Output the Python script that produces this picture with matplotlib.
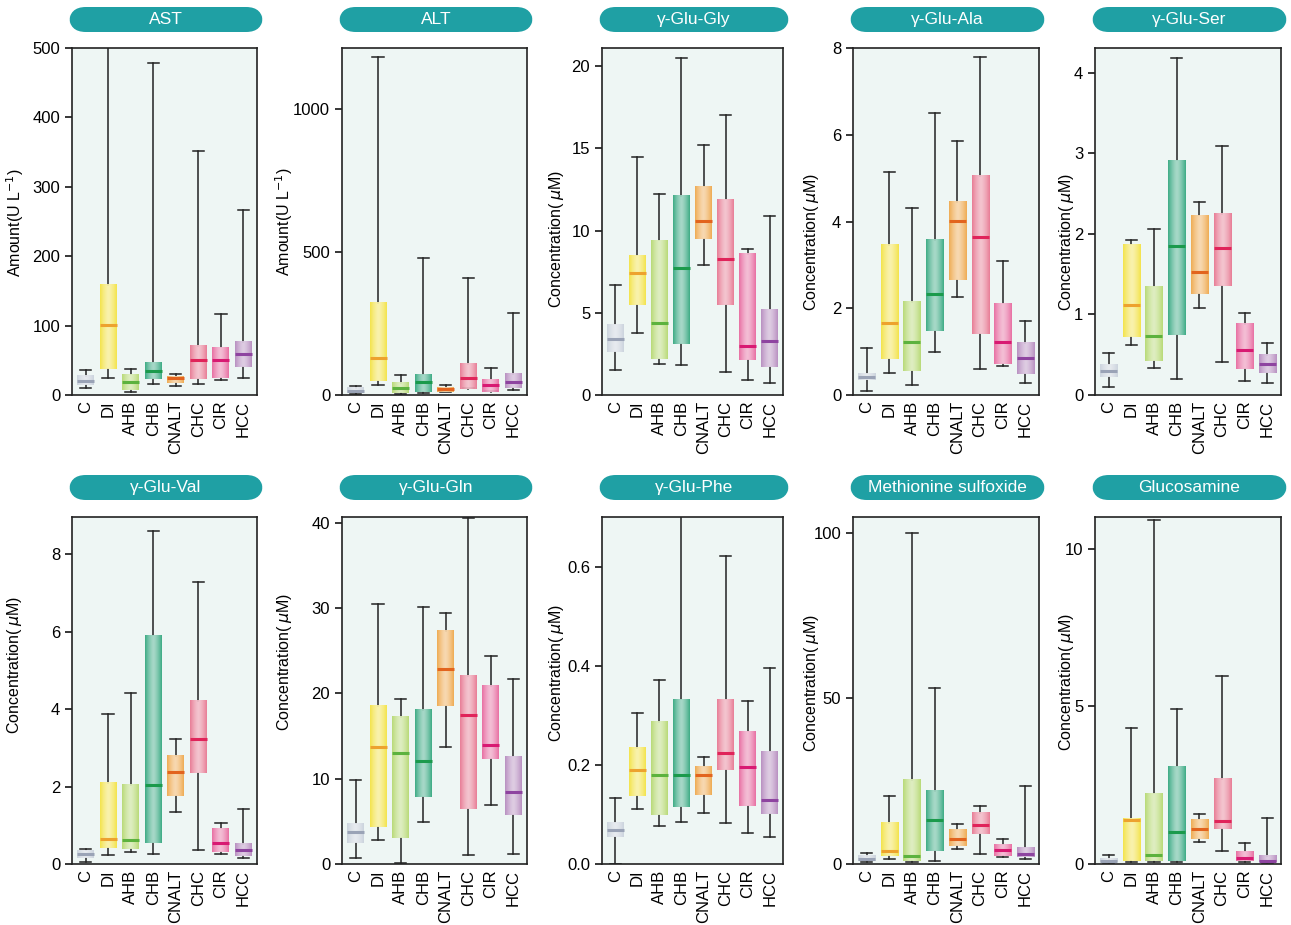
import numpy as np
import matplotlib.pyplot as plt
from matplotlib.colors import to_rgb
from matplotlib.patches import FancyBboxPatch

plt.rcParams['font.family'] = ['Liberation Sans', 'DejaVu Sans']

groups = ['C', 'DI', 'AHB', 'CHB', 'CNALT', 'CHC', 'CIR', 'HCC']
box_colors = ['#c9d1dc', '#f4e23c', '#b4d86c', '#2ea57c', '#f0a545', '#e8738e', '#e8649c', '#b487bd']
med_colors = ['#9aa3b6', '#eda22e', '#5cb23e', '#1b9a4c', '#e2641e', '#e0245a', '#d81a72', '#8e44a0']

# per group: whisker low, Q1, median, Q3, whisker high
ast = [[10, 14, 20, 27, 36], [25, 37, 101, 159, 520], [5, 7, 19, 30, 37], [16, 23, 35, 47, 478],
       [13, 18, 24, 28, 30], [16, 23, 50, 71, 352], [22, 25, 50, 69, 116], [24, 40, 59, 77, 267]]
alt = [[2, 6, 15, 26, 31], [35, 49, 131, 323, 1180], [5, 6, 23, 41, 69], [8, 12, 47, 73, 479],
       [12, 12, 20, 29, 35], [23, 20, 60, 108, 409], [15, 12, 35, 55, 93], [17, 23, 47, 72, 285]]
glu_gly = [[1.5, 2.6, 3.4, 4.3, 6.7], [3.8, 5.5, 7.4, 8.5, 14.5], [1.9, 2.2, 4.4, 9.4, 12.2],
           [1.8, 3.1, 7.7, 12.1, 20.5], [7.9, 9.5, 10.6, 12.7, 15.2], [1.4, 5.5, 8.3, 11.9, 17.0],
           [0.9, 2.1, 3.0, 8.6, 8.9], [0.7, 1.7, 3.3, 5.2, 10.9]]
glu_ala = [[0.1, 0.35, 0.42, 0.5, 1.08], [0.5, 0.82, 1.67, 3.45, 5.15], [0.22, 0.55, 1.22, 2.15, 4.3],
           [0.98, 1.48, 2.33, 3.58, 6.5], [2.25, 2.65, 4.02, 4.45, 5.85], [0.6, 1.4, 3.65, 5.05, 7.8],
           [0.67, 0.72, 1.22, 2.12, 3.1], [0.27, 0.48, 0.85, 1.2, 1.7]]
glu_ser = [[0.1, 0.22, 0.3, 0.38, 0.52], [0.62, 0.72, 1.12, 1.87, 1.93], [0.34, 0.42, 0.73, 1.35, 2.06],
           [0.2, 0.75, 1.85, 2.92, 4.18], [1.08, 1.25, 1.53, 2.23, 2.4], [0.41, 1.35, 1.82, 2.25, 3.09],
           [0.18, 0.32, 0.56, 0.88, 1.02], [0.15, 0.27, 0.38, 0.5, 0.65]]
glu_val = [[0.05, 0.15, 0.25, 0.35, 0.38], [0.22, 0.42, 0.65, 2.1, 3.88], [0.32, 0.38, 0.62, 2.05, 4.42],
           [0.25, 0.55, 2.05, 5.92, 8.6], [1.33, 1.75, 2.37, 2.8, 3.22], [0.37, 2.35, 3.22, 4.22, 7.28],
           [0.27, 0.32, 0.55, 0.92, 1.05], [0.15, 0.2, 0.35, 0.52, 1.43]]
glu_gln = [[0.7, 2.5, 3.7, 4.8, 9.8], [2.8, 4.3, 13.7, 18.5, 30.5], [0.1, 3.0, 13.0, 17.3, 19.4],
           [4.9, 7.8, 12.1, 18.1, 30.1], [13.7, 18.5, 22.9, 27.3, 29.4], [1.1, 6.5, 17.5, 22.1, 40.6],
           [6.9, 12.3, 13.9, 20.9, 24.4], [1.2, 5.8, 8.4, 12.7, 21.7]]
glu_phe = [[0.0, 0.055, 0.068, 0.085, 0.133], [0.111, 0.138, 0.19, 0.235, 0.305],
           [0.077, 0.098, 0.18, 0.287, 0.372], [0.085, 0.115, 0.18, 0.332, 0.75],
           [0.103, 0.14, 0.18, 0.197, 0.215], [0.082, 0.19, 0.223, 0.332, 0.621],
           [0.062, 0.117, 0.196, 0.268, 0.328], [0.055, 0.101, 0.13, 0.228, 0.396]]
met_sulfoxide = [[0.5, 0.8, 1.5, 2.5, 3.3], [1.5, 2.5, 3.8, 12.5, 20.5], [0.5, 1.0, 2.5, 25.5, 100],
                 [0.8, 3.8, 13.2, 22.0, 53.2], [4.5, 5.5, 7.5, 10.5, 12.2], [3.0, 9.0, 11.8, 15.5, 17.5],
                 [2.0, 2.5, 4.2, 6.0, 7.5], [1.5, 2.0, 3.0, 5.0, 23.5]]
glucosamine = [[0.02, 0.05, 0.1, 0.15, 0.3], [0.05, 0.1, 1.4, 1.45, 4.3], [0.05, 0.1, 0.3, 2.25, 10.9],
               [0.05, 0.1, 1.0, 3.1, 4.9], [0.7, 0.8, 1.1, 1.42, 1.6], [0.4, 1.1, 1.35, 2.7, 5.95],
               [0.05, 0.1, 0.2, 0.4, 0.65], [0.02, 0.05, 0.1, 0.25, 1.45]]

amount = 'Amount(U L$^{-1}$)'
conc = 'Concentration(\u2009$\\mu$M)'
panels = [
    ('AST', ast, amount, 500, [0, 100, 200, 300, 400, 500]),
    ('ALT', alt, amount, 1213, [0, 500, 1000]),
    ('γ-Glu-Gly', glu_gly, conc, 21.1, [0, 5, 10, 15, 20]),
    ('γ-Glu-Ala', glu_ala, conc, 8, [0, 2, 4, 6, 8]),
    ('γ-Glu-Ser', glu_ser, conc, 4.31, [0, 1, 2, 3, 4]),
    ('γ-Glu-Val', glu_val, conc, 8.96, [0, 2, 4, 6, 8]),
    ('γ-Glu-Gln', glu_gln, conc, 40.7, [0, 10, 20, 30, 40]),
    ('γ-Glu-Phe', glu_phe, conc, 0.7, [0.0, 0.2, 0.4, 0.6]),
    ('Methionine sulfoxide', met_sulfoxide, conc, 104.8, [0, 50, 100]),
    ('Glucosamine', glucosamine, conc, 11.0, [0, 5, 10]),
]

W, H = 1291, 925
fig = plt.figure(figsize=(W / 100, H / 100), dpi=100)

# panel layout in pixels
lefts = [72, 342, 602, 853, 1095]
widths = [185, 185, 181, 186, 186]
row_tops = [48, 517]
ax_h = 347
banner_y = [7, 475]
banner_h = 25
label_x = [15, 284, 556, 812, 1066]
label_y = [223, 222, 239, 242, 242, 665, 662, 673, 683, 682]


def shaded_box(ax, x, lo, hi, color, w=0.75):
    c = np.array(to_rgb(color))
    t = np.linspace(-1, 1, 64)
    k = (np.abs(t) ** 1.4)[:, None]
    center = 0.45 * c + 0.55 * np.ones(3)
    img = (center + (c - center) * k)[None, :, :]
    ax.imshow(img, extent=(x - w / 2, x + w / 2, lo, hi), aspect='auto',
              interpolation='bilinear', zorder=2, alpha=0.92)


for i, (title, data, ylabel, ymax, ticks) in enumerate(panels):
    row, col = divmod(i, 5)
    left, width, top = lefts[col], widths[col], row_tops[row]
    ax = fig.add_axes([left / W, 1 - (top + ax_h) / H, width / W, ax_h / H])
    ax.set_facecolor('#eef6f4')

    stats = [dict(whislo=s[0], q1=s[1], med=s[2], q3=s[3], whishi=s[4], label=g)
             for s, g in zip(data, groups)]
    art = ax.bxp(stats, positions=range(1, 9), widths=0.75, capwidths=0.5,
                 showfliers=False, showbox=False,
                 whiskerprops=dict(color='#222222', lw=1.1, zorder=1),
                 capprops=dict(color='#222222', lw=1.1, zorder=1),
                 medianprops=dict(lw=2.2, zorder=3))
    for j, s in enumerate(stats):
        shaded_box(ax, j + 1, s['q1'], s['q3'], box_colors[j])
        art['medians'][j].set_color(med_colors[j])

    ax.set_xlim(0.4, 8.6)
    ax.set_ylim(0, ymax)
    ax.set_yticks(ticks)
    ax.set_xticks(range(1, 9))
    ax.set_xticklabels(groups, rotation=90, fontsize=12)
    ax.tick_params(axis='x', length=0, pad=4)
    ax.tick_params(axis='y', length=5, width=1.1, labelsize=12)
    for sp in ax.spines.values():
        sp.set_linewidth(1.2)
        sp.set_color('#222222')
    ax.set_ylabel(ylabel, fontsize=11.5, va='center')
    ax.yaxis.set_label_coords((label_x[col] - left) / width,
                              (top + ax_h - label_y[i]) / ax_h)

    # rounded title banner above each panel
    bx0 = left - 3
    bx1 = min(left + width + 6, W - 2)
    by = banner_y[row]
    fig.patches.append(FancyBboxPatch(
        (bx0 / W, 1 - (by + banner_h) / H), (bx1 - bx0) / W, banner_h / H,
        boxstyle='round,pad=0,rounding_size=0.013', transform=fig.transFigure,
        facecolor='#1fa0a4', edgecolor='none', mutation_aspect=W / H))
    fig.text((bx0 + bx1) / 2 / W, 1 - (by + banner_h / 2) / H, title, color='white',
             fontsize=12.5, ha='center', va='center')

fig.savefig('out.png', dpi=100)
